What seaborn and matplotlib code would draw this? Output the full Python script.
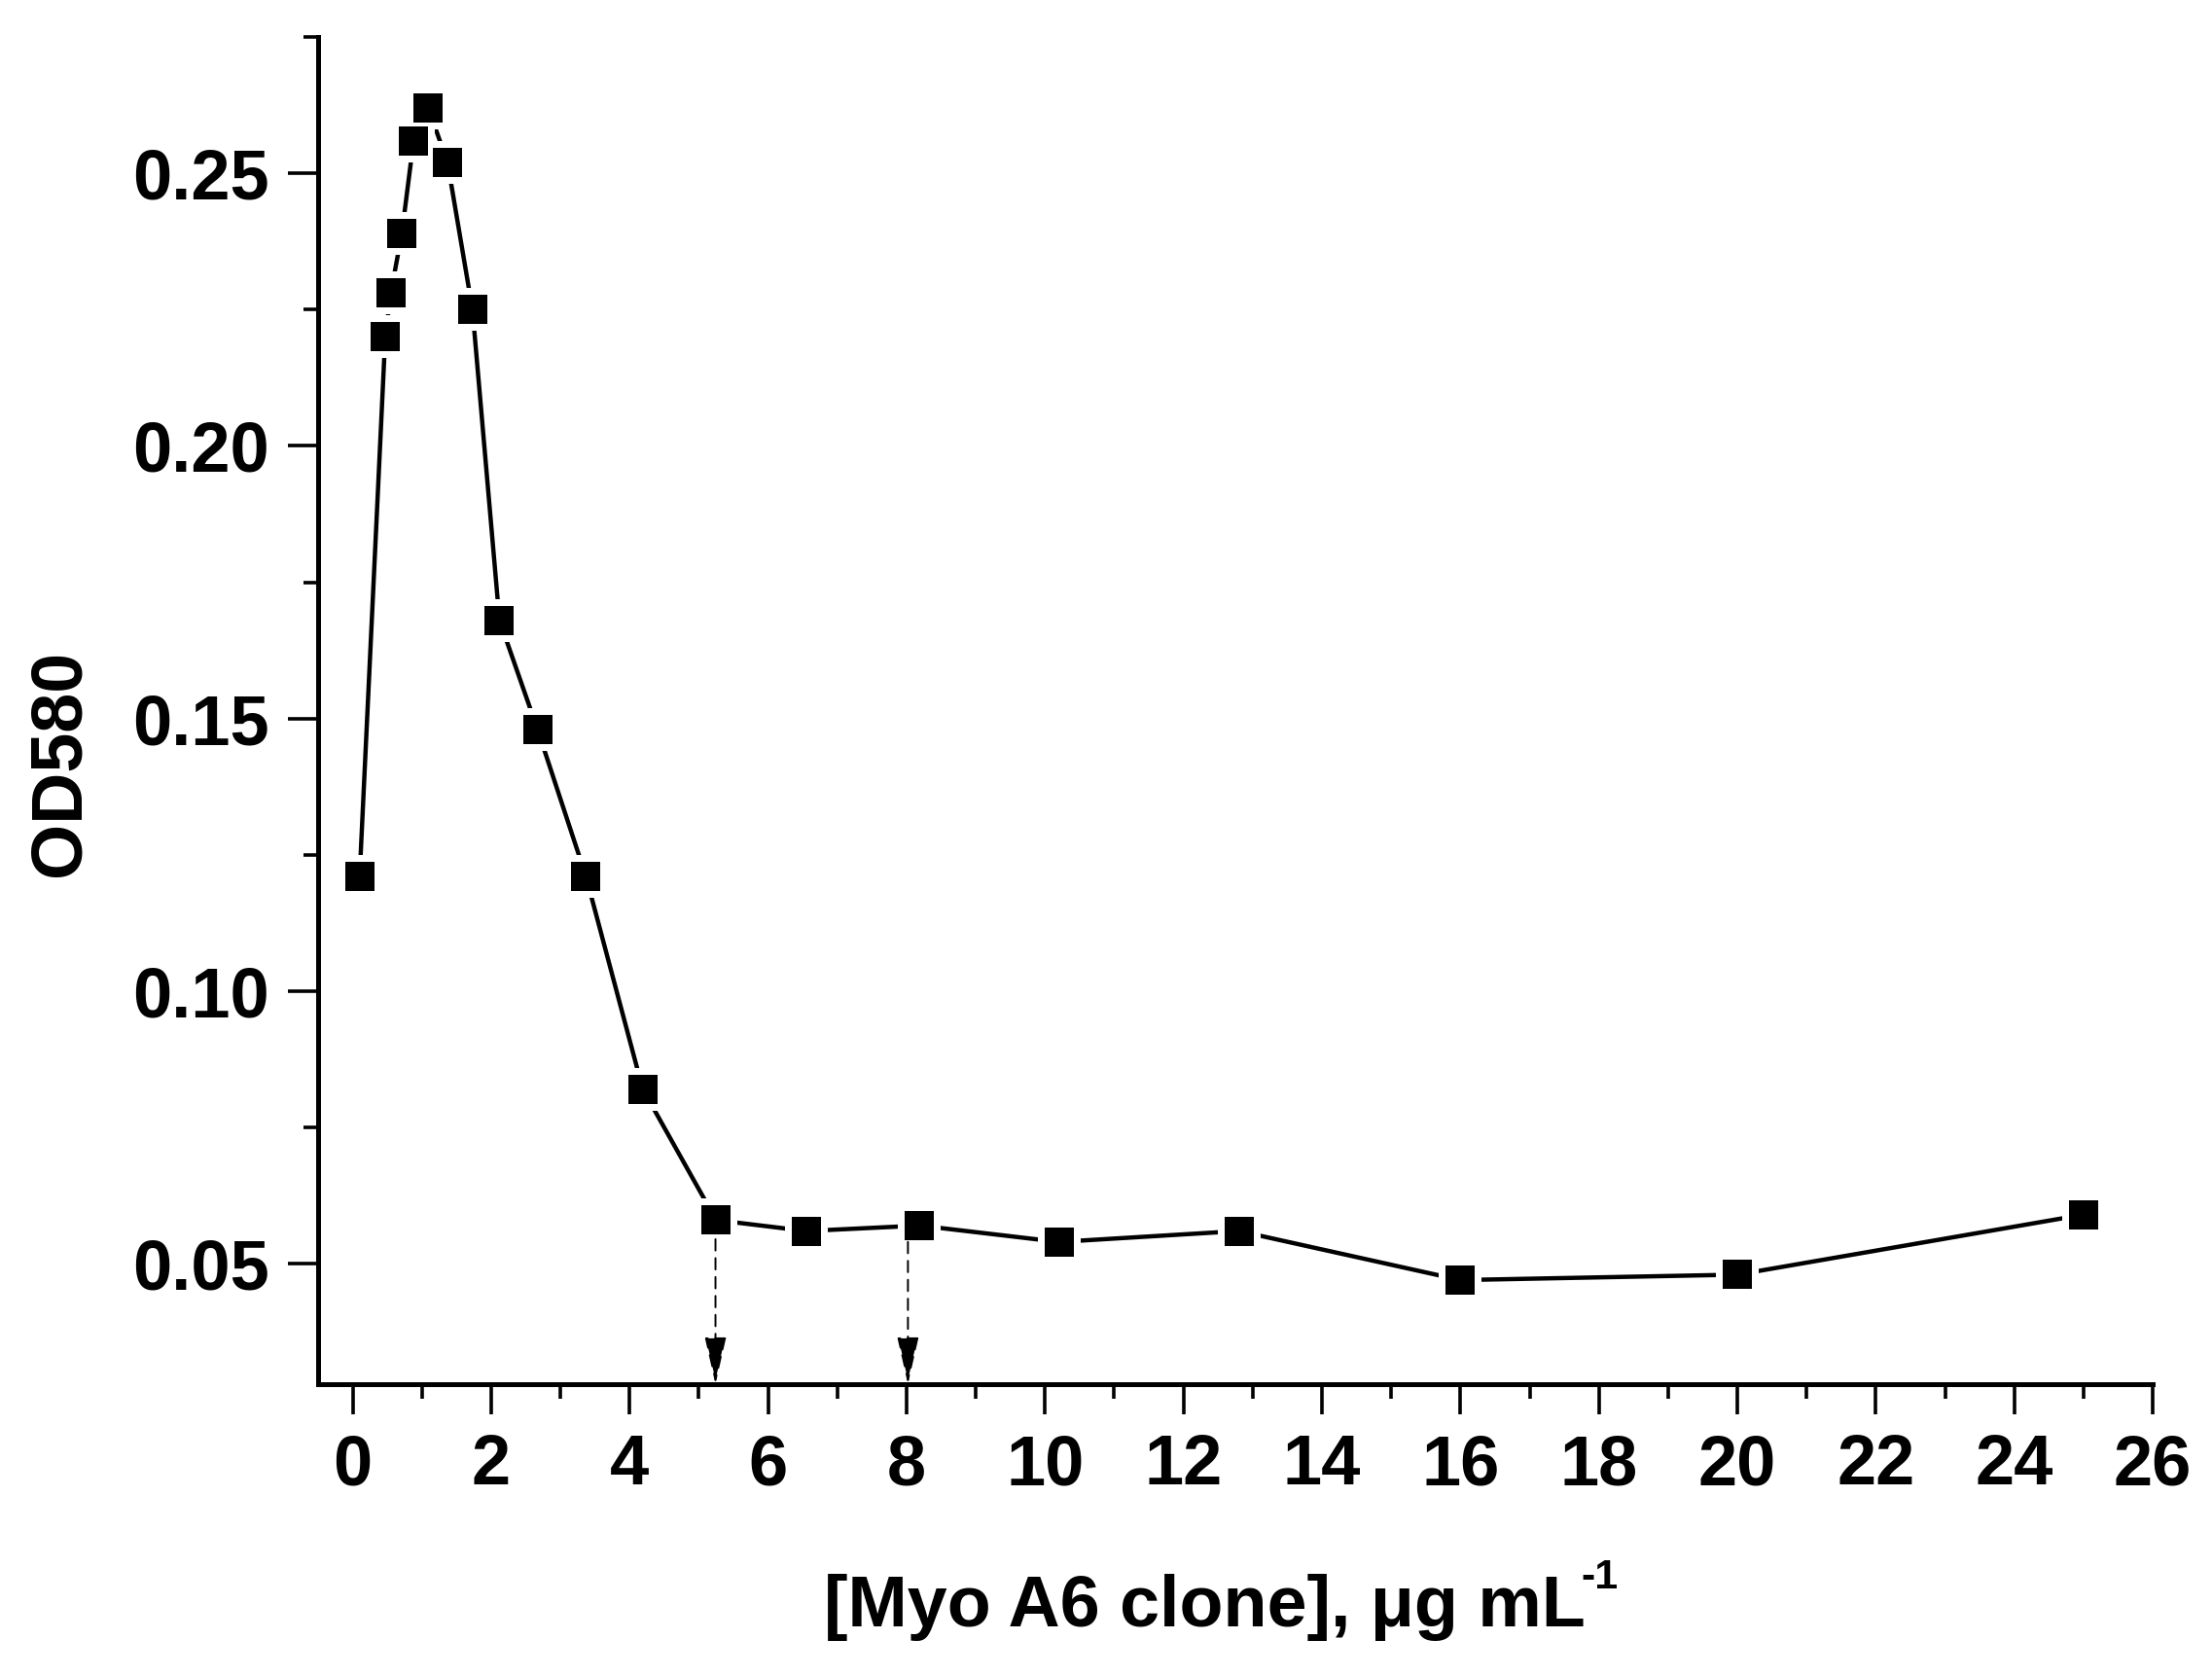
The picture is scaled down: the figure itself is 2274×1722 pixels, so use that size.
import numpy as np
import pandas as pd
import matplotlib
matplotlib.use("Agg")
import matplotlib.pyplot as plt
import seaborn as sns
from matplotlib.ticker import MultipleLocator

# data
conc = [0.1, 0.47, 0.55, 0.71, 0.88, 1.09, 1.37, 1.73, 2.12, 2.67,
        3.37, 4.19, 5.25, 6.55, 8.19, 10.2, 12.8, 16.0, 20.0, 25.0]
od580 = [0.121, 0.220, 0.228, 0.239, 0.256, 0.262, 0.252, 0.225, 0.168, 0.148,
         0.121, 0.082, 0.058, 0.056, 0.057, 0.054, 0.056, 0.047, 0.048, 0.059]
arrow_x = [5.24, 8.02]
arrow_top = [0.0545, 0.0540]

x_ticks = list(range(0, 27, 2))
y_ticks = [0.05, 0.10, 0.15, 0.20, 0.25]
y_tick_labels = ["0.05", "0.10", "0.15", "0.20", "0.25"]
x_label = "[Myo A6 clone], μg mL"
x_label_sup = "-1"
y_label = "OD580"

df = pd.DataFrame({"conc": conc, "od": od580})

sns.set_style("ticks")
plt.rcParams["font.family"] = ["Liberation Sans", "DejaVu Sans"]
plt.rcParams["font.weight"] = "bold"
for key in ["text.color", "axes.labelcolor", "axes.edgecolor", "xtick.color", "ytick.color"]:
    plt.rcParams[key] = "black"

fig = plt.figure(figsize=(22.74, 17.22), dpi=100)
ax = fig.add_axes([0.1438, 0.1736, 0.8294, 0.8043])

ylo, yhi = 0.0279, 0.275

sns.lineplot(data=df, x="conc", y="od", color="black", linewidth=3.2, ax=ax, zorder=2)
# white halo so the line breaks around each marker
sns.scatterplot(data=df, x="conc", y="od", marker="s", s=32 ** 2, color="white",
                linewidth=0, ax=ax, zorder=3)
sns.scatterplot(data=df, x="conc", y="od", marker="s", s=22 ** 2, color="black",
                linewidth=0, ax=ax, zorder=4)

for xa, yt in zip(arrow_x, arrow_top):
    ax.annotate("", xy=(xa, ylo), xytext=(xa, yt),
                arrowprops=dict(arrowstyle="-|>,head_length=2.2,head_width=0.5",
                                mutation_scale=14, color="black", lw=1.4,
                                linestyle=(0, (6, 4)), shrinkA=0, shrinkB=0),
                zorder=5)

ax.set_xlim(-0.5, 26)
ax.set_ylim(ylo, yhi)
ax.set_xticks(x_ticks)
ax.set_xticklabels([str(t) for t in x_ticks])
ax.set_yticks(y_ticks)
ax.set_yticklabels(y_tick_labels)
ax.xaxis.set_minor_locator(MultipleLocator(1))
ax.yaxis.set_minor_locator(MultipleLocator(0.025))

ax.tick_params(which="major", length=22, width=2.6, pad=14, labelsize=52, direction="out")
ax.tick_params(which="minor", length=11, width=2.6, direction="out")
for lab in ax.get_xticklabels() + ax.get_yticklabels():
    lab.set_fontweight("bold")

for side in ["top", "right"]:
    ax.spines[side].set_visible(False)
for side in ["left", "bottom"]:
    ax.spines[side].set_linewidth(3.6)

ax.set_xlabel(x_label, fontsize=53, fontweight="bold", va="baseline")
ax.xaxis.set_label_coords(0.483, -0.18)
ax.set_ylabel(y_label, fontsize=53, fontweight="bold", va="baseline")
ax.yaxis.set_label_coords(-0.130, 0.4614)

# superscript "-1" tucked in right after the x label
fig.canvas.draw()
bb = ax.xaxis.label.get_window_extent()
fig.text((bb.x1 - 4) / fig.bbox.width, (1722 - 1633) / 1722, x_label_sup,
         fontsize=31, fontweight="bold", ha="left", va="baseline")

fig.savefig("out.png", dpi=100, facecolor="white")
